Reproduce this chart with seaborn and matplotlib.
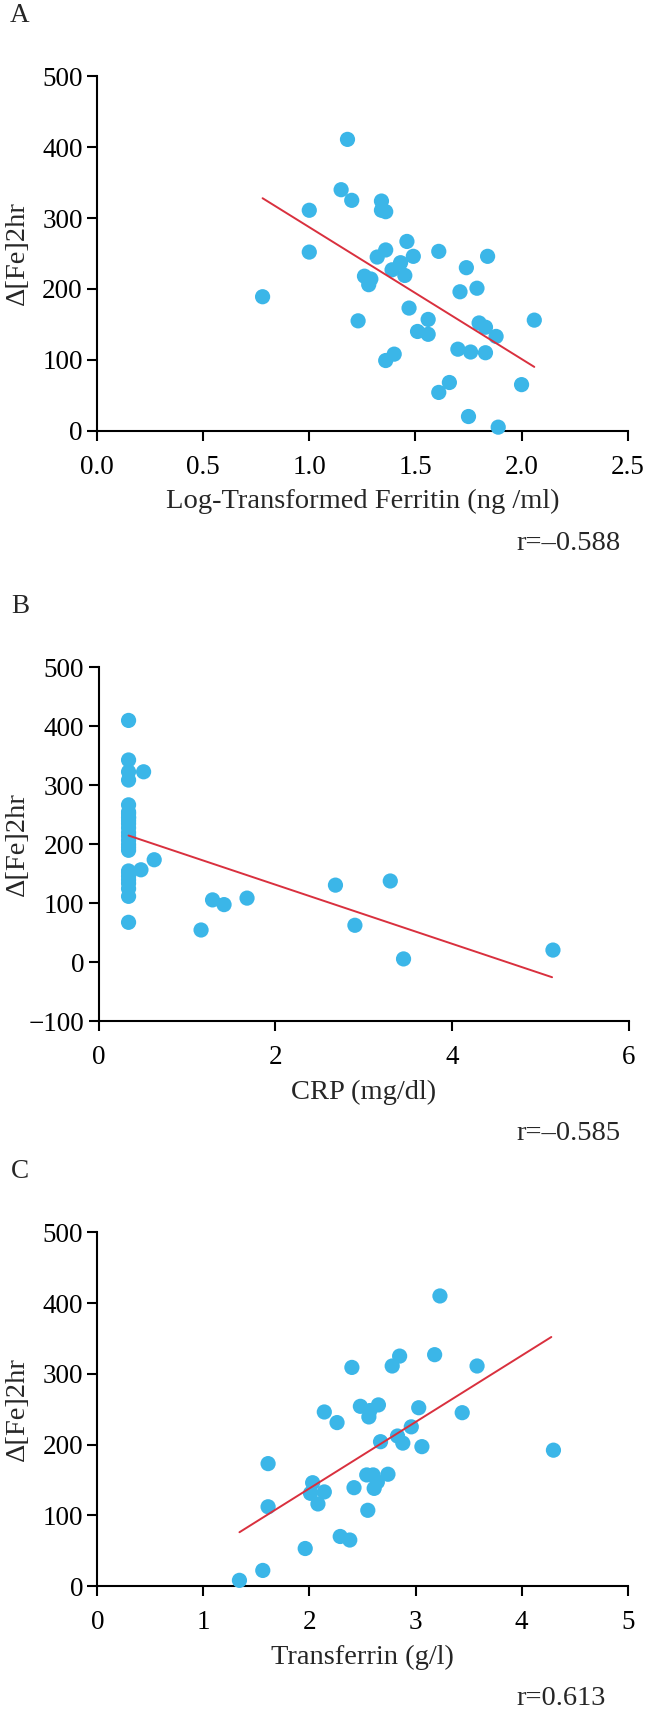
import matplotlib
matplotlib.use("Agg")
import matplotlib.pyplot as plt
import seaborn as sns
import pandas as pd

# panel A: log ferritin vs delta Fe at 2 h
ferritin = [0.78, 1.00, 1.00, 1.18, 1.15, 1.20, 1.34, 1.34, 1.36, 1.46, 1.36, 1.32,
            1.49, 1.43, 1.39, 1.45, 1.26, 1.29, 1.28, 1.61, 1.84, 1.74, 1.71, 1.79,
            1.23, 1.47, 1.56, 1.51, 1.56, 1.80, 1.83, 1.88, 2.06, 1.70, 1.76, 1.83,
            1.36, 1.40, 1.61, 1.66, 2.00, 1.75, 1.89]
fe_a = [189, 311, 252, 411, 340, 325, 324, 311, 309, 267, 255, 245,
        246, 237, 227, 219, 218, 214, 206, 253, 246, 230, 196, 201,
        155, 173, 157, 140, 136, 152, 146, 133, 156, 115, 111, 110,
        99, 108, 54, 68, 65, 20, 5]
fit_a_x = [0.78, 2.06]
fit_a_y = [328, 90]

# panel B: CRP
crp = [0.34] * 26 + [0.51, 0.48, 0.63, 1.16, 1.29, 1.42, 1.68, 2.68, 2.90, 3.30, 3.45, 5.14]
fe_b = [410, 343, 323, 309, 267, 255, 252, 246, 245, 240, 235, 228, 220, 214, 207,
        200, 195, 190, 155, 152, 146, 140, 134, 125, 112, 68,
        323, 157, 174, 55, 106, 98, 109, 131, 63, 138, 6, 21]
fit_b_x = [0.34, 5.13]
fit_b_y = [215, -25]

# panel C: transferrin
transferrin = [1.34, 1.56, 1.61, 1.61, 1.96, 2.03, 2.01, 2.14, 2.08, 2.14, 2.26, 2.29,
               2.38, 2.40, 2.42, 2.48, 2.56, 2.57, 2.65, 2.54, 2.60, 2.74, 2.61, 2.64,
               2.55, 2.67, 2.78, 2.85, 2.83, 2.88, 2.96, 3.03, 3.06, 3.18, 3.23, 3.44,
               3.58, 4.30]
fe_c = [8, 22, 173, 112, 53, 146, 131, 133, 116, 246, 231, 70,
        65, 309, 139, 254, 239, 248, 256, 157, 157, 158, 138, 147,
        107, 204, 311, 325, 212, 202, 225, 252, 197, 327, 410, 245,
        311, 192]
fit_c_x = [1.34, 4.28]
fit_c_y = [76, 352]

DOT = "#3bb6e8"
RED = "#d9303e"

sns.set_style("ticks")
plt.rcParams["font.family"] = ["Liberation Serif", "DejaVu Serif"]
plt.rcParams["axes.linewidth"] = 1.5
plt.rcParams["xtick.major.width"] = 1.5
plt.rcParams["ytick.major.width"] = 1.5
plt.rcParams["xtick.major.size"] = 7.2
plt.rcParams["ytick.major.size"] = 7.2
plt.rcParams["xtick.color"] = "black"
plt.rcParams["ytick.color"] = "black"
plt.rcParams["axes.edgecolor"] = "black"

W, H = 646, 1713
fig = plt.figure(figsize=(W / 100, H / 100), dpi=100)


def panel(left, top, right, bottom, x, y, fx, fy, xlim, ylim, xticks, yticks,
          xlabel, fmt, letter, r_text):
    ax = fig.add_axes([left / W, 1 - bottom / H, (right - left) / W, (bottom - top) / H])
    df = pd.DataFrame({"x": x, "y": y})
    sns.scatterplot(data=df, x="x", y="y", ax=ax, color=DOT, s=120,
                    edgecolor="none", linewidth=0, clip_on=False, zorder=3)
    fit = pd.DataFrame({"x": fx, "y": fy})
    sns.lineplot(data=fit, x="x", y="y", ax=ax, color=RED, linewidth=1.4, zorder=4)
    ax.set_xlim(*xlim)
    ax.set_ylim(*ylim)
    ax.set_xticks(xticks)
    ax.set_yticks(yticks)
    ax.set_xticklabels([fmt.format(t) for t in xticks])
    ax.set_yticklabels(["\u2212" + str(-t) if t < 0 else str(t) for t in yticks])
    ax.tick_params(axis="x", labelsize=19.5, pad=10)
    ax.tick_params(axis="y", labelsize=19.5, pad=3)
    ax.set_xlabel(xlabel, fontsize=20.5, labelpad=7)
    ax.set_ylabel("\u0394[Fe]2hr", fontsize=20.5)
    ax.yaxis.set_label_coords(-(left - 30) / (right - left), 0.5)
    sns.despine(ax=ax)
    fig.text(20 / W, 1 - (top - 61) / H, letter, fontsize=19.5, ha="center", va="center")
    fig.text(516 / W, 1 - (bottom + 112.5) / H, r_text, fontsize=20.5, ha="left", va="center")
    return ax


panel(97, 76.3, 627.7, 430.7, ferritin, fe_a, fit_a_x, fit_a_y, (0, 2.5), (0, 500),
      [0, 0.5, 1.0, 1.5, 2.0, 2.5], [0, 100, 200, 300, 400, 500],
      "Log-Transformed Ferritin (ng /ml)", "{:.1f}", "A", "r=\u20130.588")
panel(98.5, 667.3, 629, 1021.5, crp, fe_b, fit_b_x, fit_b_y, (0, 6), (-100, 500),
      [0, 2, 4, 6], [-100, 0, 100, 200, 300, 400, 500],
      "CRP (mg/dl)", "{:d}", "B", "r=\u20130.585")
panel(97.3, 1232.3, 627.7, 1586, transferrin, fe_c, fit_c_x, fit_c_y, (0, 5), (0, 500),
      [0, 1, 2, 3, 4, 5], [0, 100, 200, 300, 400, 500],
      "Transferrin (g/l)", "{:d}", "C", "r=0.613")

fig.savefig("out.png", dpi=100)
